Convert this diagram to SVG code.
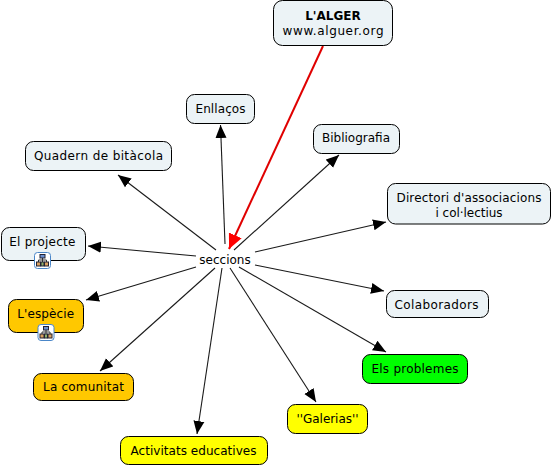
<svg xmlns="http://www.w3.org/2000/svg" xmlns:xlink="http://www.w3.org/1999/xlink" width="552" height="465" viewBox="0 0 552 465">
<style>
text{font-family:"DejaVu Sans",Verdana,sans-serif;font-size:12px;fill:#000;text-anchor:middle}
.n rect.b{stroke:#000;stroke-width:1}
.pale{fill:#ecf3f6}.orange{fill:#ffc800}.yellow{fill:#ffff00}.green{fill:#00ff00}
.c line{stroke:#1a1a1a;stroke-width:1.1}
</style>
<defs>
<marker id="ah" markerUnits="userSpaceOnUse" markerWidth="14" markerHeight="12" refX="13" refY="6" orient="auto"><path d="M0 0.500L13 6L0 11.500Z" fill="#000"/></marker>
<marker id="ahr" markerUnits="userSpaceOnUse" markerWidth="16" markerHeight="14" refX="15" refY="7" orient="auto"><path d="M0 0L15 7L0 14Z" fill="#f00"/></marker>
<g id="ico">
<rect x="0.500" y="0.500" width="16" height="16" rx="3" fill="#fff" stroke="#4a86c8"/>
<path d="M8.500 5V11M4.500 11V8H12.500V11" fill="none" stroke="#333"/>
<rect x="6" y="2.500" width="5" height="3.500" fill="#6a8fd0" stroke="#223"/>
<rect x="2.500" y="10" width="4" height="4" fill="#d9a060" stroke="#223"/>
<rect x="10.500" y="10" width="4" height="4" fill="#d9a060" stroke="#223"/>
<rect x="7" y="10" width="3" height="4" fill="#8fb06a" stroke="#223"/>
</g>
</defs>
<g id="connectors" class="c">
<line x1="225" y1="244" x2="220.500" y2="125" marker-end="url(#ah)"/>
<line x1="234" y1="250" x2="339" y2="155" marker-end="url(#ah)"/>
<line x1="216" y1="250" x2="118" y2="175" marker-end="url(#ah)"/>
<line x1="255" y1="252" x2="386" y2="222" marker-end="url(#ah)"/>
<line x1="255" y1="265" x2="384" y2="291" marker-end="url(#ah)"/>
<line x1="239" y1="267" x2="386" y2="352" marker-end="url(#ah)"/>
<line x1="230" y1="268" x2="316" y2="402" marker-end="url(#ah)"/>
<line x1="222" y1="268" x2="197" y2="434" marker-end="url(#ah)"/>
<line x1="215" y1="268" x2="100" y2="371" marker-end="url(#ah)"/>
<line x1="196" y1="267" x2="86" y2="300" marker-end="url(#ah)"/>
<line x1="196" y1="256" x2="88" y2="246" marker-end="url(#ah)"/>
<line x1="323" y1="46" x2="229" y2="249" style="stroke:#e00000;stroke-width:2" marker-end="url(#ahr)"/>
</g>
<g id="n-secc" class="n"><text x="225" y="264">seccions</text></g>
<g id="n-alger" class="n"><rect class="b pale" x="273.500" y="0.500" width="119" height="45" rx="9"/><text x="333" y="20" style="font-weight:bold">L'ALGER</text><text x="333" y="35" textLength="101">www.alguer.org</text></g>
<g id="n-enl" class="n"><rect class="b pale" x="186.500" y="94.500" width="68" height="29" rx="8"/><text x="220.500" y="113" textLength="50">Enllaços</text></g>
<g id="n-bib" class="n"><rect class="b pale" x="313.500" y="124.500" width="86" height="29" rx="8"/><text x="356" y="142">Bibliografia</text></g>
<g id="n-qua" class="n"><rect class="b pale" x="25.500" y="141.500" width="146" height="29" rx="8"/><text x="98.500" y="160" textLength="129">Quadern de bitàcola</text></g>
<g id="n-dir" class="n"><rect class="b pale" x="387.500" y="183.500" width="163" height="40.500" rx="8"/><text x="469" y="202" textLength="145">Directori d'associacions</text><text x="469" y="217" textLength="67">i col·lectius</text></g>
<g id="n-pro" class="n"><rect class="b pale" x="1.500" y="227.500" width="84" height="33" rx="8"/><text x="42.300" y="246" textLength="66">El projecte</text><use xlink:href="#ico" href="#ico" x="34" y="252"/></g>
<g id="n-esp" class="n"><rect class="b orange" x="8.500" y="299.500" width="75" height="33" rx="8"/><text x="45.700" y="318" textLength="57">L'espècie</text><use xlink:href="#ico" href="#ico" x="37.500" y="324"/></g>
<g id="n-col" class="n"><rect class="b pale" x="386.500" y="290.500" width="102" height="27" rx="8"/><text x="436.500" y="309" textLength="84">Colaboradors</text></g>
<g id="n-com" class="n"><rect class="b orange" x="33.500" y="373.500" width="100" height="27" rx="8"/><text x="83.500" y="391" textLength="81">La comunitat</text></g>
<g id="n-pbl" class="n"><rect class="b green" x="362.500" y="354.500" width="105" height="29" rx="8"/><text x="415" y="373" textLength="87">Els problemes</text></g>
<g id="n-gal" class="n"><rect class="b yellow" x="287.500" y="404.500" width="80" height="29" rx="8"/><text x="327.500" y="423" textLength="62">''Galerias''</text></g>
<g id="n-act" class="n"><rect class="b yellow" x="120.500" y="436.500" width="147" height="28" rx="8"/><text x="193.500" y="455" textLength="126">Activitats educatives</text></g>
</svg>
